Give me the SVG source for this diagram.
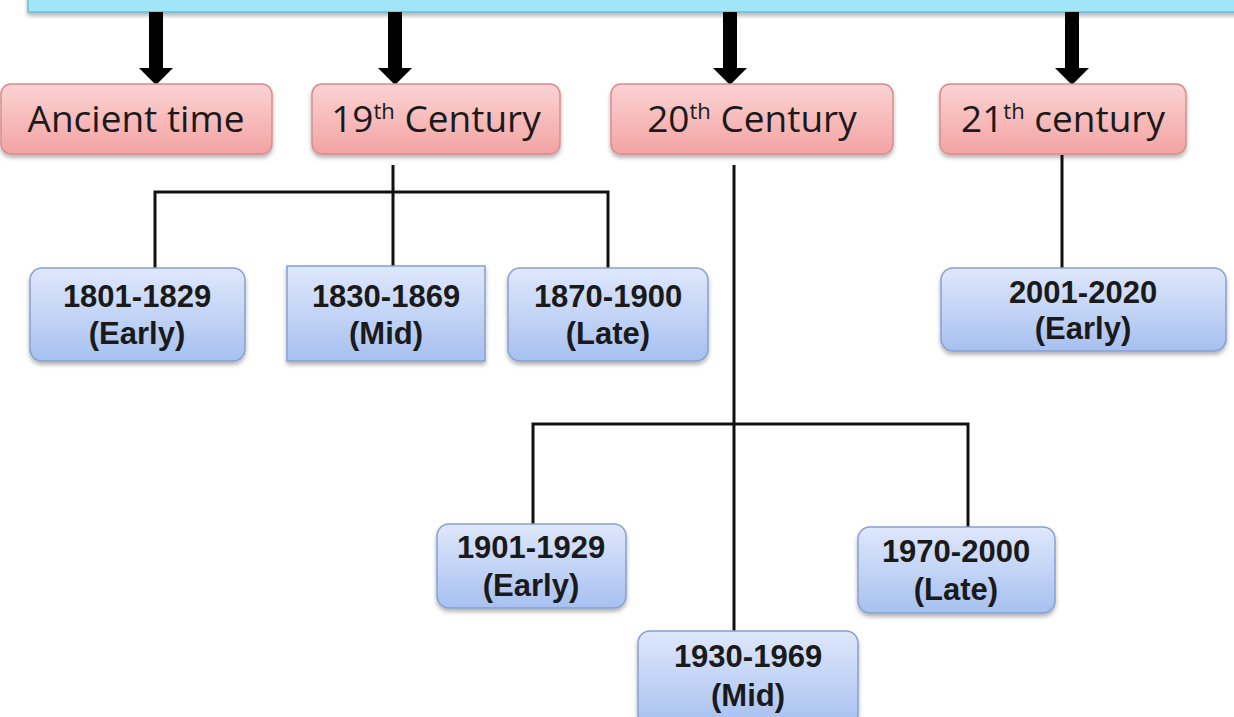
<svg xmlns="http://www.w3.org/2000/svg" width="1234" height="717" viewBox="0 0 1234 717">
<defs>
<linearGradient id="gRed" x1="0" y1="0" x2="0" y2="1">
<stop offset="0" stop-color="#fbd3d3"/>
<stop offset="1" stop-color="#f3a3a3"/>
</linearGradient>
<linearGradient id="gBlue" x1="0" y1="0" x2="0" y2="1">
<stop offset="0" stop-color="#dfe8fb"/>
<stop offset="1" stop-color="#a7c0f0"/>
</linearGradient>
<filter id="sh" x="-10%" y="-10%" width="120%" height="130%">
<feDropShadow dx="0" dy="3" stdDeviation="2" flood-color="#000" flood-opacity="0.3"/>
</filter>
</defs>
<style>
.red{fill:url(#gRed);stroke:#d98c8c;stroke-width:1.5;filter:url(#sh)}
.blue{fill:url(#gBlue);stroke:#86a0d0;stroke-width:1.5;filter:url(#sh)}
.t1{font-family:"Open Sans","Liberation Sans",sans-serif;font-size:37px;fill:#1a1a1a;text-anchor:middle}
.sup{font-size:22px}
.t2{font-family:"Liberation Sans",Arial,sans-serif;font-size:31px;font-weight:bold;fill:#1a1a1a;text-anchor:middle}
.ln{fill:none;stroke:#111;stroke-width:3}
.ar{fill:#000}
</style>
<rect width="1234" height="717" fill="#fff"/>
<g id="topbar">
<rect x="28" y="-20" width="1230" height="32" fill="#a0e6f8" stroke="#6cbcd4" stroke-width="1.5" filter="url(#sh)"/>
</g>
<g id="connectors">
<path class="ar" d="M149,12 H163 V68 H173 L156,85 L139,68 H149 Z"/>
<path class="ar" d="M388,12 H402 V68 H412 L395,85 L378,68 H388 Z"/>
<path class="ar" d="M723,12 H737 V68 H747 L730,85 L713,68 H723 Z"/>
<path class="ar" d="M1065,12 H1079 V68 H1089 L1072,85 L1055,68 H1065 Z"/>
<path class="ln" d="M393,165 V267"/>
<path class="ln" d="M155,268 V192 H608 V268"/>
<path class="ln" d="M734,165 V631"/>
<path class="ln" d="M533,524 V424 H968 V527"/>
<path class="ln" d="M1062,155 V268"/>
</g>
<g id="ancient">
<rect class="red" x="1" y="84" width="271" height="70" rx="10"/>
<text class="t1" x="136" y="132">Ancient time</text>
</g>
<g id="c19">
<rect class="red" x="312" y="84" width="248" height="70" rx="10"/>
<text class="t1" x="436" y="132">19<tspan class="sup" dy="-13">th</tspan><tspan dy="13"> Century</tspan></text>
</g>
<g id="c20">
<rect class="red" x="611" y="84" width="282" height="70" rx="10"/>
<text class="t1" x="752" y="132">20<tspan class="sup" dy="-13">th</tspan><tspan dy="13"> Century</tspan></text>
</g>
<g id="c21">
<rect class="red" x="940" y="84" width="246" height="70" rx="10"/>
<text class="t1" x="1063" y="132">21<tspan class="sup" dy="-13">th</tspan><tspan dy="13"> century</tspan></text>
</g>
<g id="p1801">
<rect class="blue" x="30" y="268" width="215" height="93" rx="12"/>
<text class="t2" x="137" y="307">1801-1829</text>
<text class="t2" x="137" y="344">(Early)</text>
</g>
<g id="p1830">
<rect class="blue" x="287" y="266" width="198" height="95"/>
<text class="t2" x="386" y="307">1830-1869</text>
<text class="t2" x="386" y="344">(Mid)</text>
</g>
<g id="p1870">
<rect class="blue" x="508" y="268" width="200" height="93" rx="12"/>
<text class="t2" x="608" y="307">1870-1900</text>
<text class="t2" x="608" y="344">(Late)</text>
</g>
<g id="p2001">
<rect class="blue" x="941" y="268" width="285" height="83" rx="12"/>
<text class="t2" x="1083" y="303">2001-2020</text>
<text class="t2" x="1083" y="339">(Early)</text>
</g>
<g id="p1901">
<rect class="blue" x="437" y="524" width="189" height="84" rx="12"/>
<text class="t2" x="531" y="558">1901-1929</text>
<text class="t2" x="531" y="596">(Early)</text>
</g>
<g id="p1970">
<rect class="blue" x="858" y="527" width="197" height="86" rx="12"/>
<text class="t2" x="956" y="562">1970-2000</text>
<text class="t2" x="956" y="600">(Late)</text>
</g>
<g id="p1930">
<rect class="blue" x="638" y="631" width="220" height="95" rx="12"/>
<text class="t2" x="748" y="667">1930-1969</text>
<text class="t2" x="748" y="706">(Mid)</text>
</g>
</svg>
